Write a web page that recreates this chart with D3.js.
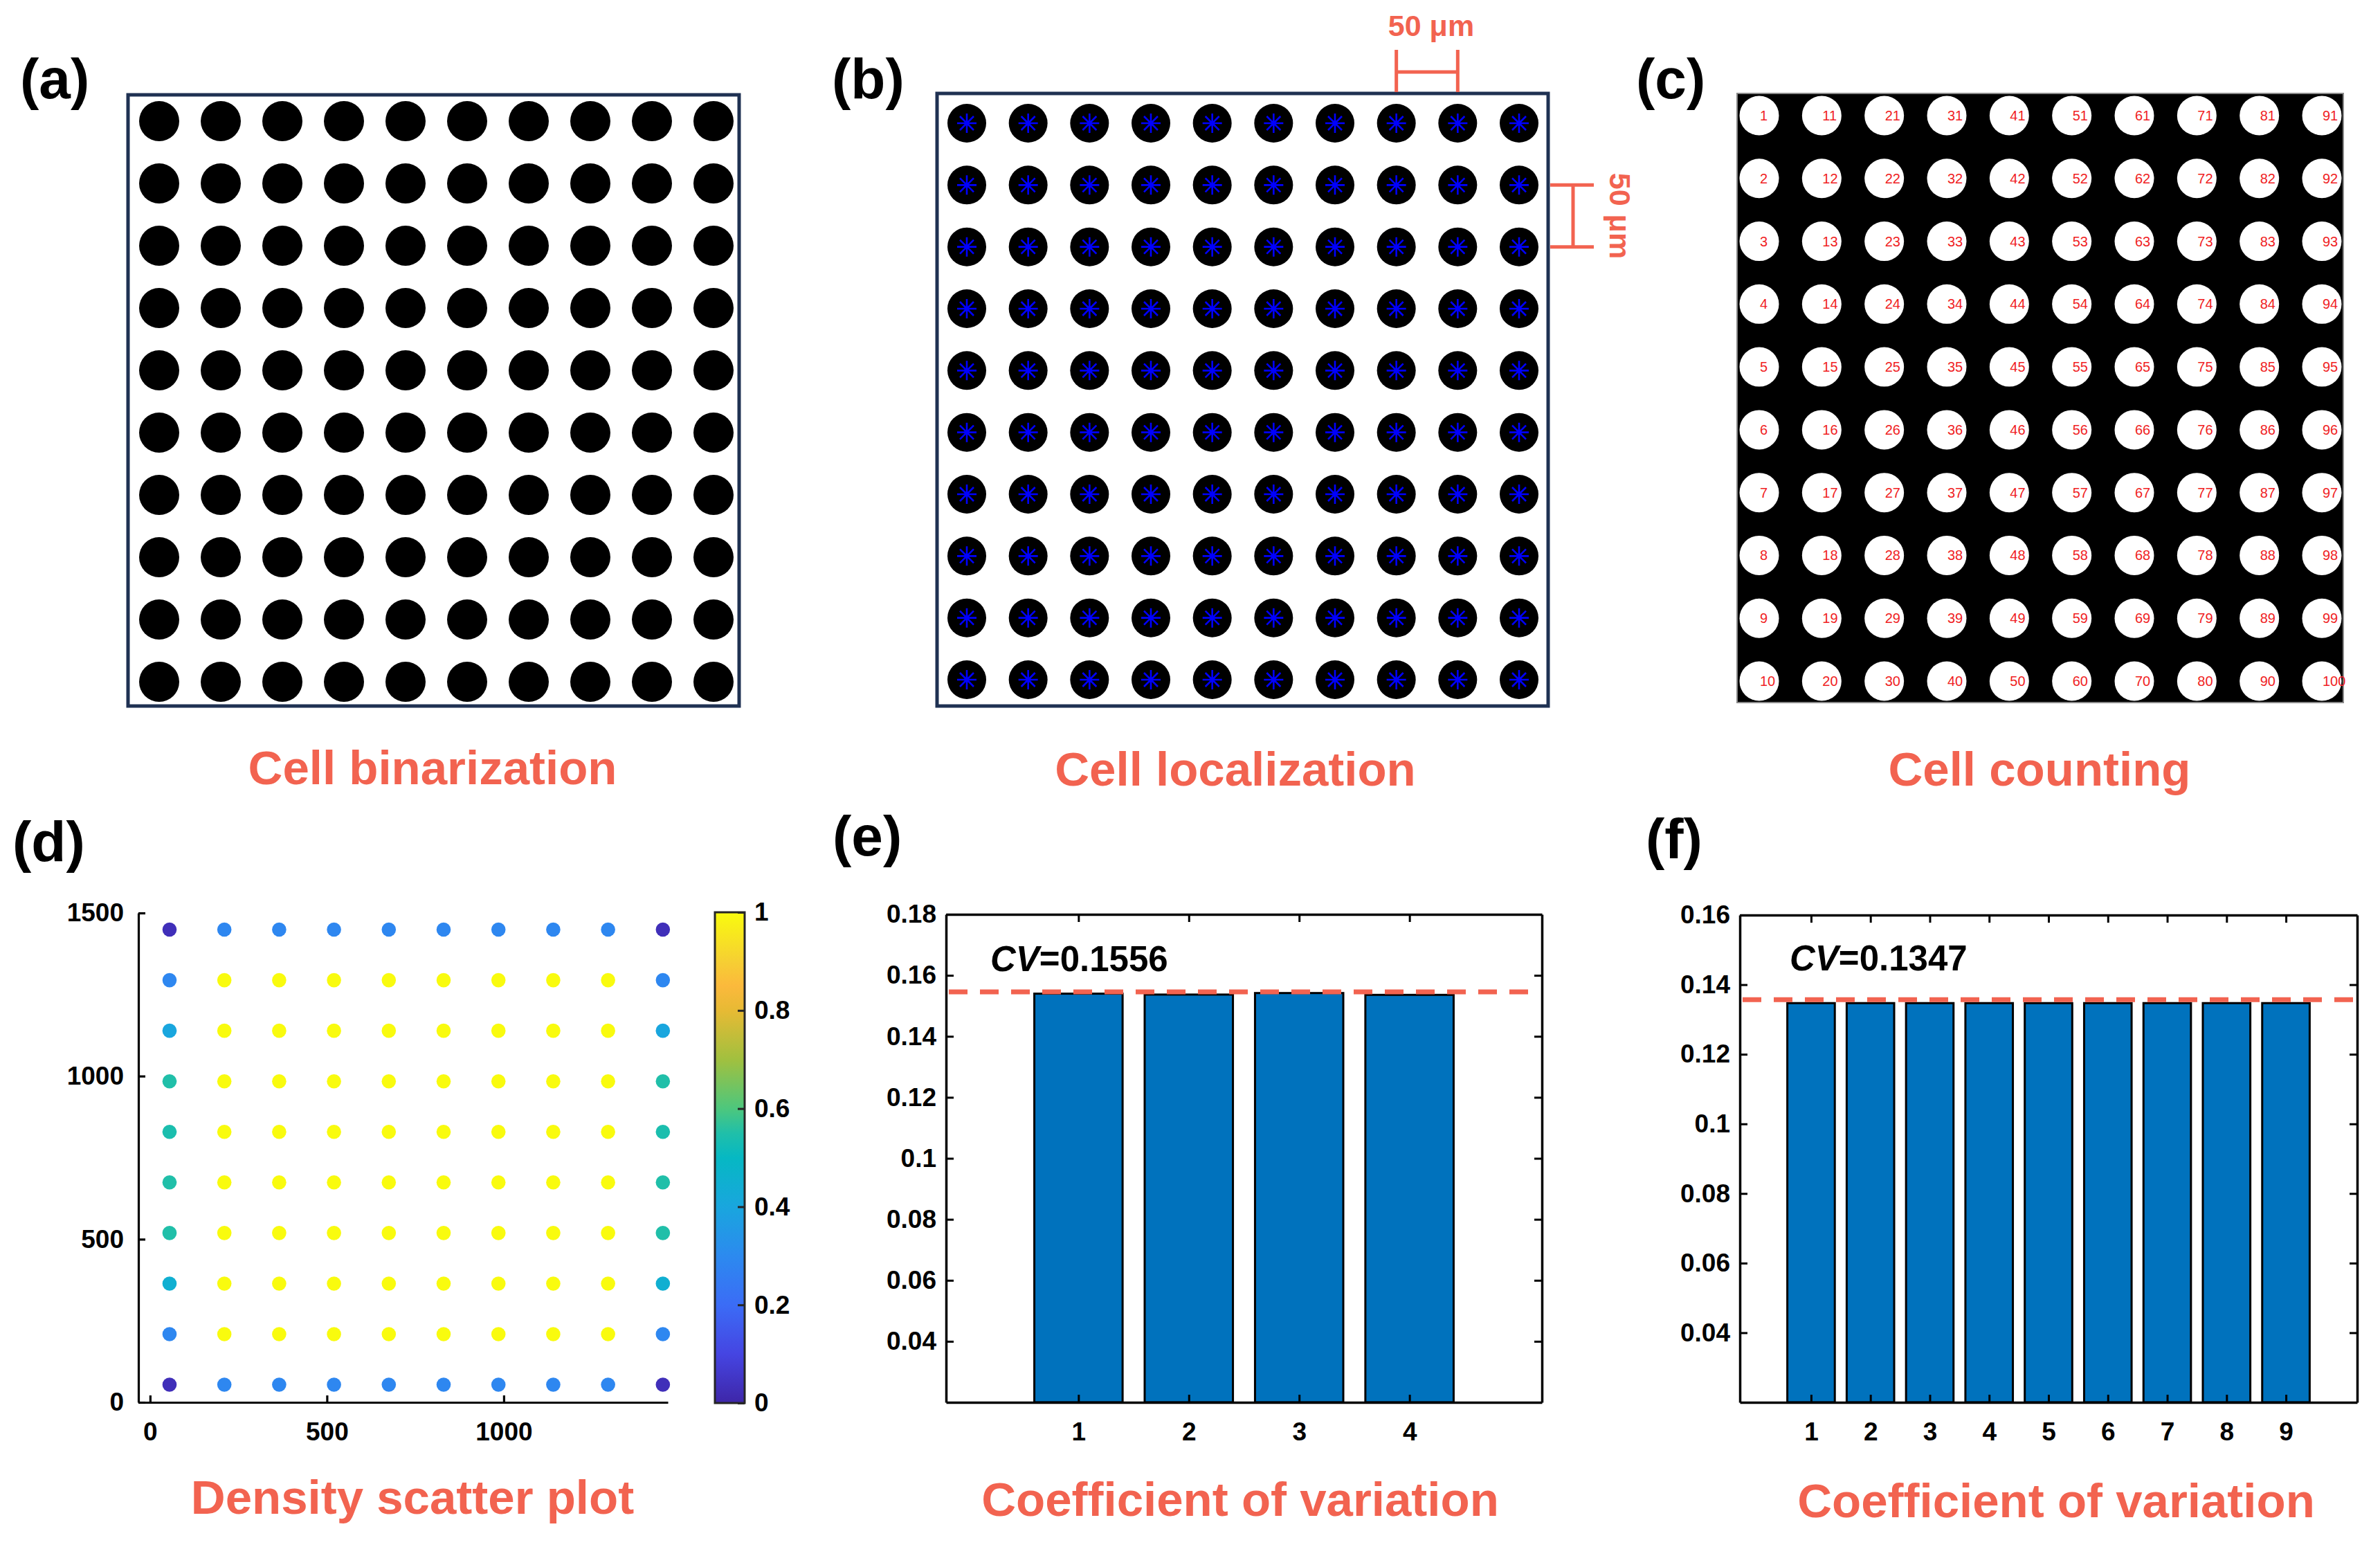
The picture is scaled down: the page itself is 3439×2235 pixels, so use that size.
<!DOCTYPE html>
<html><head><meta charset="utf-8">
<script src="https://cdn.jsdelivr.net/npm/d3@7"></script>
<style>
html,body{margin:0;padding:0;background:#fff;}
svg{display:block;}
text{font-family:"Liberation Sans",Arial,Helvetica,sans-serif;}
</style>
</head><body>
<svg id="fig" width="3439" height="2235"></svg>
<script>
// ================= DATA =================
const gridCols = [1,2,3,4,5,6,7,8,9,10];
const gridRows = [1,2,3,4,5,6,7,8,9,10];
const panelLabels = ["(a)","(b)","(c)","(d)","(e)","(f)"];
const panelTitles = ["Cell binarization","Cell localization","Cell counting",
                     "Density scatter plot","Coefficient of variation","Coefficient of variation"];
const scaleBarText = "50 μm";

// (d) density scatter: centroid coordinates (top row first) and normalised density
const scatterX = [55,210,365,520,675,830,985,1140,1295,1450];
const scatterY = [1449,1294,1139,984,829,674,519,364,209,54];
const densityRows = [
  [0.03,0.29,0.29,0.29,0.29,0.29,0.29,0.29,0.29,0.03],
  [0.29,1,1,1,1,1,1,1,1,0.29],
  [0.40,1,1,1,1,1,1,1,1,0.40],
  [0.55,1,1,1,1,1,1,1,1,0.55],
  [0.54,1,1,1,1,1,1,1,1,0.54],
  [0.55,1,1,1,1,1,1,1,1,0.55],
  [0.55,1,1,1,1,1,1,1,1,0.55],
  [0.45,1,1,1,1,1,1,1,1,0.45],
  [0.29,1,1,1,1,1,1,1,1,0.29],
  [0.03,0.29,0.29,0.29,0.29,0.29,0.29,0.29,0.29,0.03]
];
const scatterXTicks = [0,500,1000];
const scatterYTicks = [0,500,1000,1500];
const colorbarTicks = [0,0.2,0.4,0.6,0.8,1];
const parulaStops  = [0,0.1,0.2,0.3,0.4,0.5,0.55,0.6,0.7,0.8,0.85,0.9,1];
const parulaColors = ["#3e26a8","#4545e2","#3b6cf6","#2c8aef","#19a6de","#06b8c3","#20bfa9",
                      "#4dc77d","#a1c03f","#e7ba34","#fbb93c","#f6cf33","#f9fb0e"];

// (e) coefficient of variation, 4 groups
const cvE_categories = [1,2,3,4];
const cvE_values = [0.1540,0.1537,0.1542,0.1536];
const cvE_line = 0.1546;
const cvE_text = "0.1556";
const cvE_yTicks = [0.04,0.06,0.08,0.1,0.12,0.14,0.16,0.18];

// (f) coefficient of variation, 9 groups
const cvF_categories = [1,2,3,4,5,6,7,8,9];
const cvF_values = [0.1347,0.1347,0.1347,0.1347,0.1347,0.1347,0.1347,0.1347,0.1347];
const cvF_line = 0.1357;
const cvF_text = "0.1347";
const cvF_yTicks = [0.04,0.06,0.08,0.1,0.12,0.14,0.16];

// ================= STYLE / LAYOUT =================
const CORAL = "#f26350";
const NAVY = "#1f3152";
const BAR = "#0072bd";
const TICKFONT = 37;
const TITLEFONT = 69;
const LABELFONT = 82;
const plain = d => String(+(+d).toFixed(2));

const svg = d3.select("#fig");
svg.append("rect").attr("width",3439).attr("height",2235).attr("fill","#fff");

const cells = gridCols.flatMap(c => gridRows.map(r => ({col:c, row:r, num:(c-1)*gridRows.length + r})));

function panelLabel(txt, x, y){
  svg.append("text").attr("x",x).attr("y",y).attr("font-size",LABELFONT)
     .attr("font-weight",700).attr("fill","#000").text(txt);
}
function title(txt, cx, y){
  svg.append("text").attr("x",cx).attr("y",y).attr("text-anchor","middle")
     .attr("font-size",TITLEFONT).attr("font-weight",700).attr("fill",CORAL).text(txt);
}

// ---------- (a) Cell binarization ----------
{
  const x = d3.scaleLinear().domain([1,10]).range([230,1031]);
  const y = d3.scaleLinear().domain([1,10]).range([175,985]);
  const g = svg.append("g");
  g.selectAll("circle").data(cells).join("circle")
    .attr("cx",d=>x(d.col)).attr("cy",d=>y(d.row)).attr("r",29).attr("fill","#000");
  g.append("rect").attr("x",185).attr("y",137).attr("width",883).attr("height",883)
    .attr("fill","none").attr("stroke",NAVY).attr("stroke-width",5);
  panelLabel(panelLabels[0],29,142);
  title(panelTitles[0],625,1133);
}

// ---------- (b) Cell localization ----------
{
  const x = d3.scaleLinear().domain([1,10]).range([1397,2195]);
  const y = d3.scaleLinear().domain([1,10]).range([178,982]);
  const g = svg.append("g");
  g.selectAll("circle").data(cells).join("circle")
    .attr("cx",d=>x(d.col)).attr("cy",d=>y(d.row)).attr("r",28).attr("fill","#000");
  const star = "M0,-14V14M-14,0H14M-10,-10L10,10M-10,10L10,-10";
  g.selectAll("path.star").data(cells).join("path").attr("class","star")
    .attr("transform",d=>`translate(${x(d.col)},${y(d.row)})`)
    .attr("d",star).attr("stroke","#0000ff").attr("stroke-width",2.6).attr("fill","none");
  g.append("rect").attr("x",1354).attr("y",135).attr("width",883).attr("height",885)
    .attr("fill","none").attr("stroke",NAVY).attr("stroke-width",5);
  // scale bar (top): spans one cell pitch between columns 8 and 9
  const x8 = x(8), x9 = x(9);
  const sb = g.append("g").attr("stroke",CORAL).attr("stroke-width",5).attr("fill","none");
  sb.append("line").attr("x1",x8).attr("x2",x8).attr("y1",72).attr("y2",133);
  sb.append("line").attr("x1",x9).attr("x2",x9).attr("y1",72).attr("y2",133);
  sb.append("line").attr("x1",x8).attr("x2",x9).attr("y1",104).attr("y2",104);
  g.append("text").attr("x",(x8+x9)/2+6).attr("y",52).attr("text-anchor","middle")
    .attr("font-size",43).attr("font-weight",700).attr("fill",CORAL).text(scaleBarText);
  // scale bar (right): spans one pitch between rows 2 and 3
  const y2 = y(2), y3 = y(3);
  sb.append("line").attr("x1",2240).attr("x2",2303).attr("y1",y2).attr("y2",y2);
  sb.append("line").attr("x1",2240).attr("x2",2303).attr("y1",y3).attr("y2",y3);
  sb.append("line").attr("x1",2273).attr("x2",2273).attr("y1",y2).attr("y2",y3);
  g.append("text").attr("transform",`translate(2326,${(y2+y3)/2}) rotate(90)`)
    .attr("text-anchor","middle").attr("font-size",43).attr("font-weight",700)
    .attr("fill",CORAL).text(scaleBarText);
  panelLabel(panelLabels[1],1202,142);
  title(panelTitles[1],1785,1135);
}

// ---------- (c) Cell counting ----------
{
  const x = d3.scaleLinear().domain([1,10]).range([2542,3355]);
  const y = d3.scaleLinear().domain([1,10]).range([167,984]);
  const g = svg.append("g");
  g.append("rect").attr("x",2510).attr("y",135).attr("width",876).attr("height",880)
    .attr("fill","#000").attr("stroke","#8a8a8a").attr("stroke-width",2);
  g.selectAll("circle").data(cells).join("circle")
    .attr("cx",d=>x(d.col)).attr("cy",d=>y(d.row)).attr("r",28.5).attr("fill","#fff");
  g.selectAll("text.num").data(cells).join("text").attr("class","num")
    .attr("x",d=>x(d.col)+1).attr("y",d=>y(d.row)).attr("dy","0.35em")
    .attr("font-size",20).attr("fill","#f01e23").text(d=>d.num);
  panelLabel(panelLabels[2],2364,142);
  title(panelTitles[2],2947,1135);
}

// ---------- (d) Density scatter plot ----------
{
  const x = d3.scaleLinear().domain([-33,1464]).range([200,965]);
  const y = d3.scaleLinear().domain([0,1500]).range([2026,1319]);
  const color = d3.scaleLinear().domain(parulaStops).range(parulaColors);
  const pts = [];
  scatterY.forEach((yv,i)=>scatterX.forEach((xv,j)=>pts.push({x:xv,y:yv,v:densityRows[i][j]})));
  const g = svg.append("g");
  g.selectAll("circle").data(pts).join("circle")
    .attr("cx",d=>x(d.x)).attr("cy",d=>y(d.y)).attr("r",10.3).attr("fill",d=>color(d.v));

  const ax = g.append("g").attr("transform","translate(0,2026)")
    .call(d3.axisBottom(x).tickValues(scatterXTicks).tickSizeInner(-10).tickSizeOuter(0).tickPadding(29)
      .tickFormat(plain));
  const ay = g.append("g").attr("transform","translate(200,0)")
    .call(d3.axisLeft(y).tickValues(scatterYTicks).tickSizeInner(-10).tickSizeOuter(0).tickPadding(21)
      .tickFormat(plain));
  [ax,ay].forEach(a=>{
    a.selectAll("path,line").attr("stroke","#000").attr("stroke-width",3.2);
    a.selectAll("text").attr("font-size",TICKFONT).attr("font-weight",700).attr("fill","#000")
      .attr("font-family",'"Liberation Sans",Arial,sans-serif');
  });

  // colour bar
  const defs = svg.append("defs");
  const grad = defs.append("linearGradient").attr("id","parula")
    .attr("x1",0).attr("y1",1).attr("x2",0).attr("y2",0);
  parulaStops.forEach((s,i)=>grad.append("stop").attr("offset",s).attr("stop-color",parulaColors[i]));
  const cb = d3.scaleLinear().domain([0,1]).range([2027,1318]);
  g.append("rect").attr("x",1033).attr("y",cb(1)).attr("width",43).attr("height",cb(0)-cb(1))
    .attr("fill","url(#parula)").attr("stroke","#262626").attr("stroke-width",3);
  const ac = g.append("g").attr("transform","translate(1076,0)")
    .call(d3.axisRight(cb).tickValues(colorbarTicks).tickSizeInner(-10).tickSizeOuter(0).tickPadding(14)
      .tickFormat(plain));
  ac.select(".domain").remove();
  ac.selectAll("line").attr("stroke","#262626").attr("stroke-width",3);
  ac.selectAll("text").attr("font-size",TICKFONT).attr("font-weight",700).attr("fill","#000")
    .attr("font-family",'"Liberation Sans",Arial,sans-serif');

  panelLabel(panelLabels[3],18,1244);
  title(panelTitles[3],596,2187);
}

// ---------- (e), (f) bar charts ----------
function barPanel(cfg){
  const x = d3.scaleLinear().domain(cfg.xDomain).range(cfg.xRange);
  const y = d3.scaleLinear().domain(cfg.yDomain).range(cfg.yRange);
  const g = svg.append("g");
  const base = cfg.yDomain[0];
  g.selectAll("rect.bar").data(cfg.categories.map((c,i)=>({c, v:cfg.values[i]}))).join("rect")
    .attr("class","bar")
    .attr("x",d=>x(d.c-0.4)).attr("width",x(0.8)-x(0))
    .attr("y",d=>y(d.v)).attr("height",d=>y(base)-y(d.v))
    .attr("fill",BAR).attr("stroke","#000").attr("stroke-width",3);
  g.append("line").attr("x1",cfg.xRange[0]+4).attr("x2",cfg.xRange[1]-4)
    .attr("y1",y(cfg.line)).attr("y2",y(cfg.line))
    .attr("stroke",CORAL).attr("stroke-width",7).attr("stroke-dasharray","27,18");
  const [x0,x1] = cfg.xRange, [yb,yt] = cfg.yRange;
  const axes = [];
  axes.push(g.append("g").attr("transform",`translate(0,${yb})`)
    .call(d3.axisBottom(x).tickValues(cfg.categories).tickSizeInner(-11).tickSizeOuter(0).tickPadding(29)
      .tickFormat(plain)));
  axes.push(g.append("g").attr("transform",`translate(0,${yt})`)
    .call(d3.axisTop(x).tickValues(cfg.categories).tickSizeInner(-11).tickSizeOuter(0).tickFormat("")));
  axes.push(g.append("g").attr("transform",`translate(${x0},0)`)
    .call(d3.axisLeft(y).tickValues(cfg.yTicks).tickSizeInner(-11).tickSizeOuter(0).tickPadding(14)
      .tickFormat(plain)));
  axes.push(g.append("g").attr("transform",`translate(${x1},0)`)
    .call(d3.axisRight(y).tickValues(cfg.yTicks).tickSizeInner(-11).tickSizeOuter(0).tickFormat("")));
  axes.forEach(a=>{
    a.selectAll("path").attr("stroke","#000").attr("stroke-width",3.5);
    a.selectAll("line").attr("stroke","#000").attr("stroke-width",3);
    a.selectAll("text").attr("font-size",TICKFONT).attr("font-weight",700).attr("fill","#000")
      .attr("font-family",'"Liberation Sans",Arial,sans-serif');
  });
  const t = g.append("text").attr("x",cfg.textPos[0]).attr("y",cfg.textPos[1])
    .attr("font-size",51).attr("font-weight",700).attr("fill","#000");
  t.append("tspan").attr("font-style","italic").text("CV");
  t.append("tspan").text("=" + cfg.text);
  panelLabel(cfg.label, cfg.labelPos[0], cfg.labelPos[1]);
  title(cfg.title, cfg.titlePos[0], cfg.titlePos[1]);
}

barPanel({
  categories: cvE_categories, values: cvE_values, line: cvE_line, text: cvE_text, yTicks: cvE_yTicks,
  xDomain: [-0.2,5.2], xRange: [1367,2228], yDomain: [0.02,0.18], yRange: [2026,1321],
  textPos: [1431,1403], label: panelLabels[4], labelPos: [1203,1236],
  title: panelTitles[4], titlePos: [1792,2190]
});
barPanel({
  categories: cvF_categories, values: cvF_values, line: cvF_line, text: cvF_text, yTicks: cvF_yTicks,
  xDomain: [-0.2,10.2], xRange: [2514,3406], yDomain: [0.02,0.16], yRange: [2026,1322],
  textPos: [2586,1402], label: panelLabels[5], labelPos: [2378,1240],
  title: panelTitles[5], titlePos: [2971,2192]
});
</script>
</body></html>
